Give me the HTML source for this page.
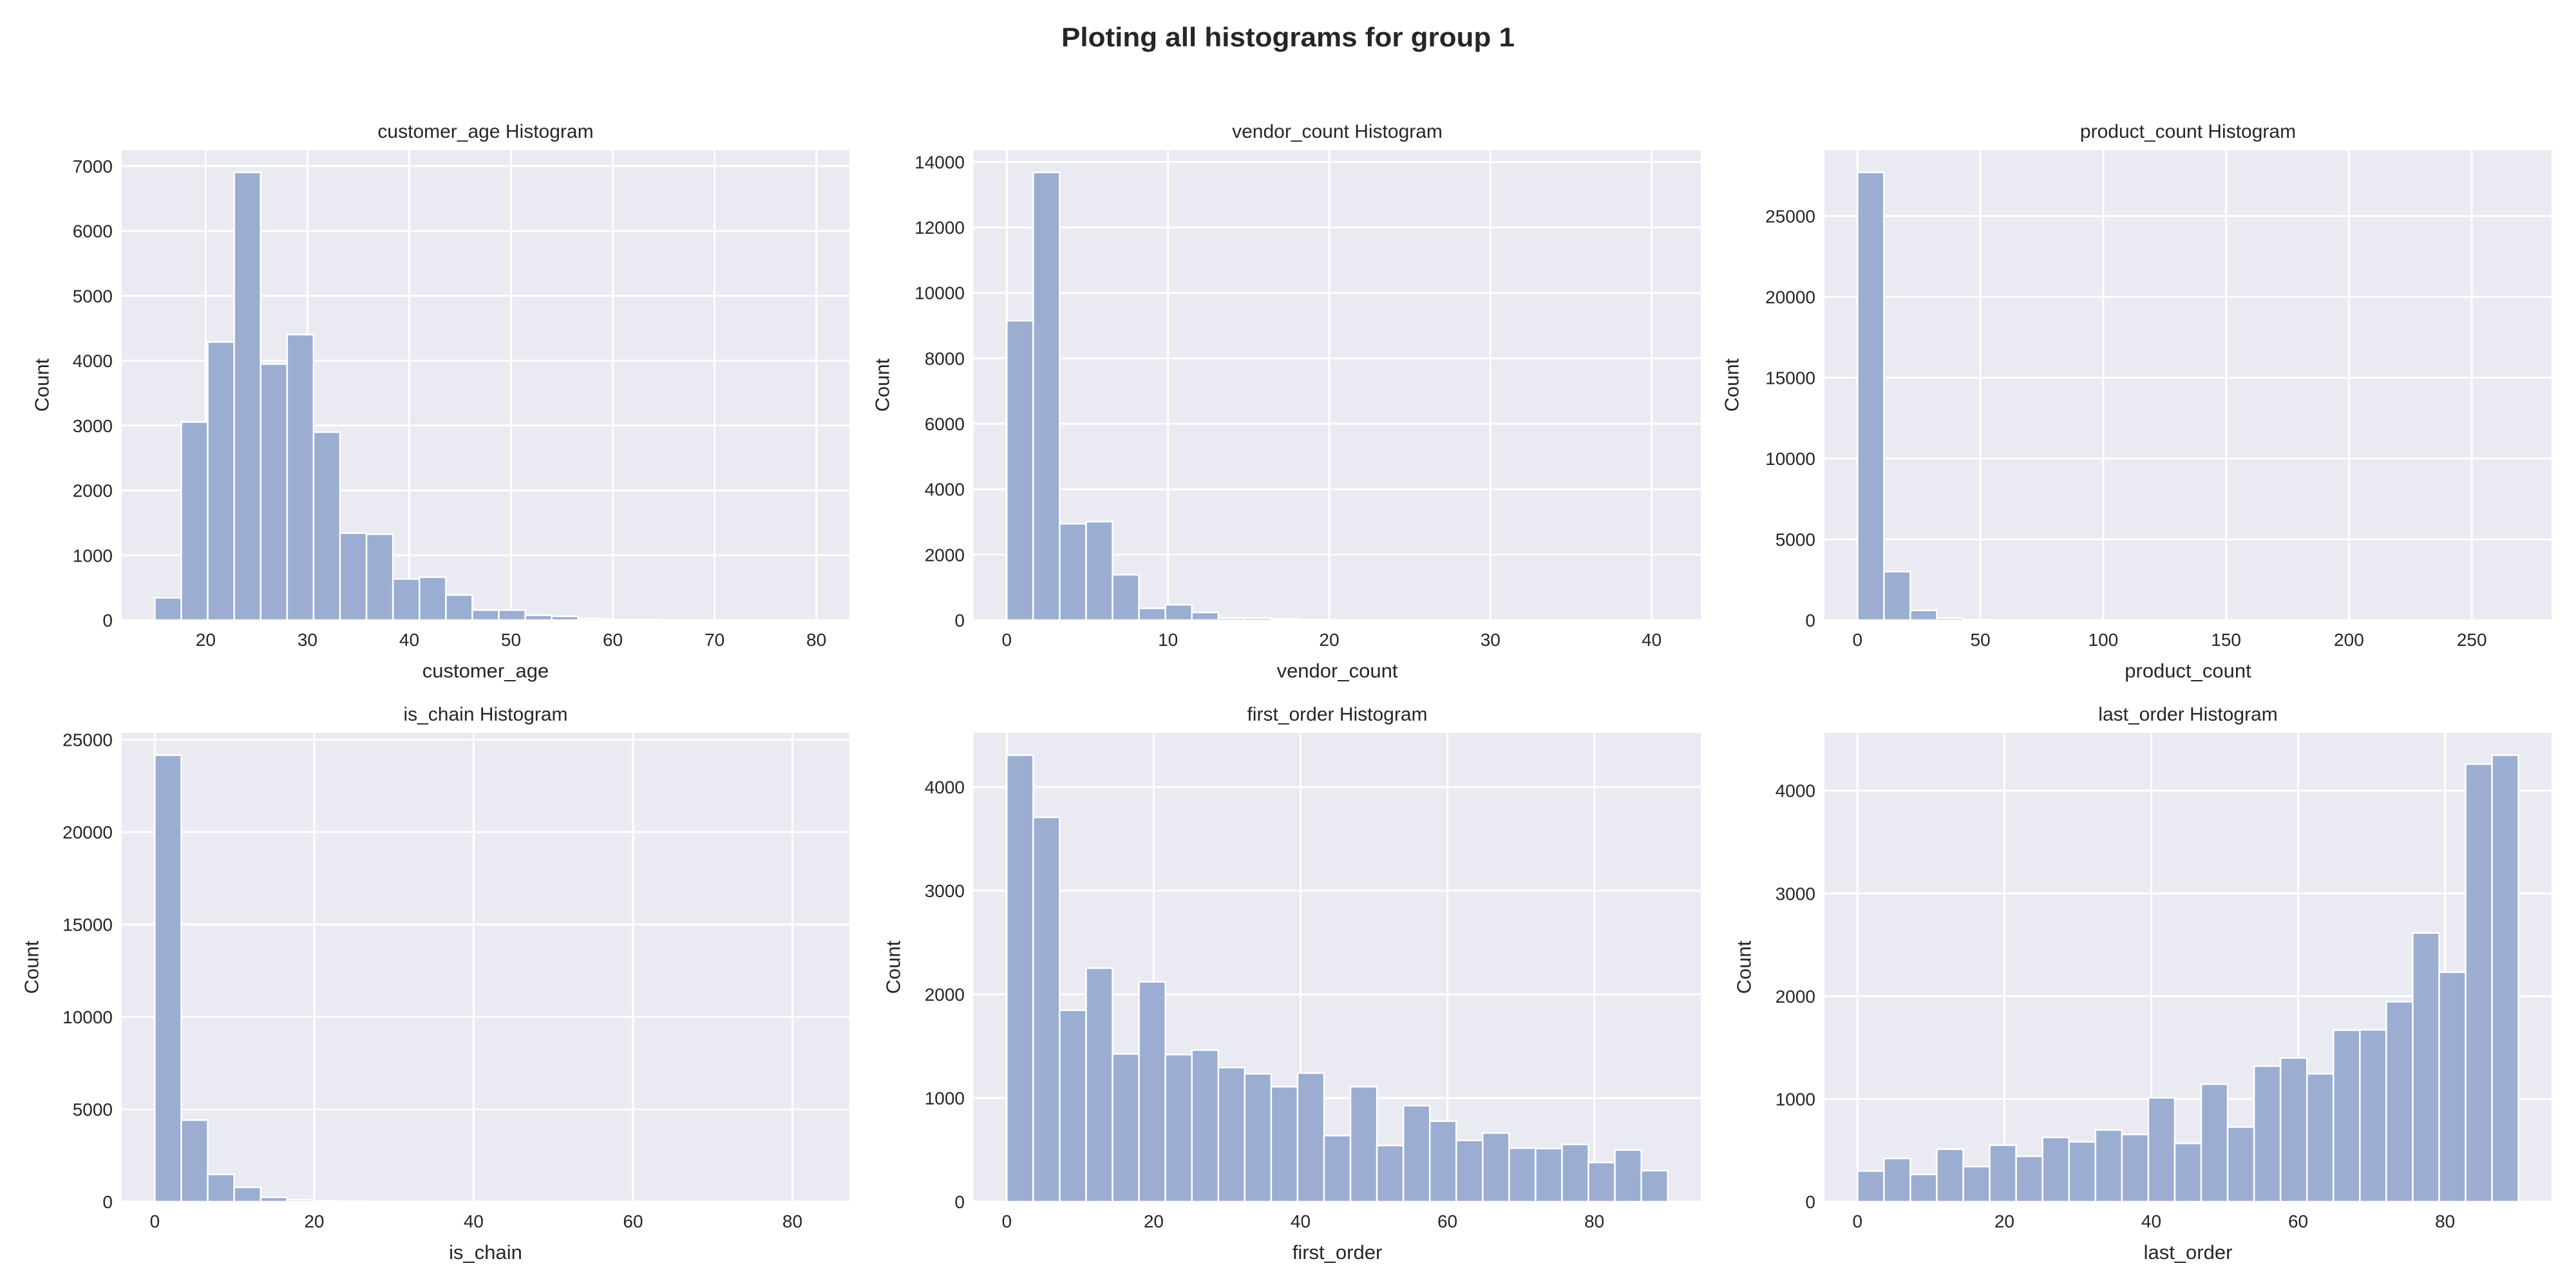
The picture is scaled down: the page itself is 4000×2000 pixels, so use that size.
<!DOCTYPE html>
<html><head><meta charset="utf-8"><style>
html,body{margin:0;padding:0;background:#fff;}
svg{display:block;font-family:"Liberation Sans",Arial,sans-serif;}
</style></head><body>
<svg id="fig" width="4000" height="2000" viewBox="0 0 4000 2000" xmlns="http://www.w3.org/2000/svg">
<rect width="4000" height="2000" fill="#fff"/>
<text x="2000" y="72" text-anchor="middle" font-size="42" font-weight="bold" fill="#262626" textLength="704" lengthAdjust="spacingAndGlyphs">Ploting all histograms for group 1</text>
</svg>
<script>
// ---- data ----
const customerAgeCounts = [345,3055,4289,6902,3949,4402,2899,1342,1325,636,663,388,156,156,75,60,27,10,8,5,3,2,2,1,1];
const vendorCountCounts = [9151,13679,2947,3011,1388,363,470,235,64,64,40,15,10,8,6,3,2,2,1,1,1,0,0,0,1];
const productCountCounts = [27700,3006,605,130,30,15,6,3,2,1,1,0,0,0,0,0,0,0,0,0,0,0,0,0,1];
const isChainCounts = [24160,4416,1479,780,240,100,40,20,10,5,3,2,1,1,0,0,0,0,0,0,0,0,0,0,1];
const firstOrderCounts = [4307,3708,1847,2253,1426,2121,1419,1462,1294,1234,1109,1241,638,1109,542,927,777,592,663,517,513,553,378,499,300];
const lastOrderCounts = [299,421,266,511,342,550,442,626,583,698,655,1011,568,1144,727,1320,1399,1245,1669,1673,1946,2615,2234,4259,4345];
const binRanges = [[15,80],[0,41],[0,269],[0,83],[0,90],[0,90]];
const panelNames = ["customer_age","vendor_count","product_count","is_chain","first_order","last_order"];
const xTicks = [[20,30,40,50,60,70,80],[0,10,20,30,40],[0,50,100,150,200,250],[0,20,40,60,80],[0,20,40,60,80],[0,20,40,60,80]];
const yTicks = [[0,1000,2000,3000,4000,5000,6000,7000],[0,2000,4000,6000,8000,10000,12000,14000],[0,5000,10000,15000,20000,25000],[0,5000,10000,15000,20000,25000],[0,1000,2000,3000,4000],[0,1000,2000,3000,4000]];
const allCounts = [customerAgeCounts,vendorCountCounts,productCountCounts,isChainCounts,firstOrderCounts,lastOrderCounts];

const NS="http://www.w3.org/2000/svg";
const svg=document.getElementById('fig');
function mk(tag,attrs,parent){const e=document.createElementNS(NS,tag);for(const k in attrs)e.setAttribute(k,attrs[k]);(parent||svg).appendChild(e);return e;}
const cols=[[189,1319],[1512,2641],[2833,3962]];
const rows=[[233,963],[1138,1866]];
const ylabX=[[65,1370,2689],[49,1387,2708]];
for(let p=0;p<6;p++){
  const r=Math.floor(p/3),c=p%3;
  const L=cols[c][0],R=cols[c][1],T=rows[r][0],B=rows[r][1];
  const counts=allCounts[p];
  const lo=binRanges[p][0],hi=binRanges[p][1];
  const pad=(hi-lo)*0.05;
  const x0=lo-pad,x1=hi+pad;
  const ymax=Math.max(...counts)*1.05;
  const sx=v=>L+(v-x0)/(x1-x0)*(R-L);
  const sy=v=>B-v/ymax*(B-T);
  const g=mk('g',{});
  
  
  const bg=mk('rect',{x:L,y:T,width:R-L,height:B-T,fill:'#eaeaf2'},g);
  
  
  xTicks[p].forEach(t=>{
    const gl=mk('line',{x1:sx(t),x2:sx(t),y1:T,y2:B,stroke:'#fff','stroke-width':3},g);
    
    
    const tl=mk('text',{x:sx(t),y:B+40,'text-anchor':'middle','font-size':28,fill:'#262626'},g);
    tl.textContent=t;
    
    
  });
  yTicks[p].forEach(t=>{
    const gl=mk('line',{x1:L,x2:R,y1:sy(t),y2:sy(t),stroke:'#fff','stroke-width':3},g);
    
    
    const tl=mk('text',{x:L-14,y:sy(t)+10,'text-anchor':'end','font-size':28,fill:'#262626'},g);
    tl.textContent=t;
    
    
  });
  const w=(hi-lo)/counts.length;
  counts.forEach((v,i)=>{
    if(v<=0)return;
    const xa=sx(lo+i*w),xb=sx(lo+(i+1)*w);
    const b=mk('rect',{x:xa,y:sy(v),width:xb-xa,height:B-sy(v),fill:'#9baed1',stroke:'#fff','stroke-width':2.5},g);
    
    
  });
  const tt=mk('text',{x:(L+R)/2,y:T-19,'text-anchor':'middle','font-size':30,fill:'#262626'},g);
  tt.textContent=panelNames[p]+' Histogram';
  
  
  const xl=mk('text',{x:(L+R)/2,y:B+89,'text-anchor':'middle','font-size':31,fill:'#262626'},g);
  xl.textContent=panelNames[p];
  
  
  const yx=ylabX[r][c],yy=(T+B)/2;
  const yl=mk('text',{x:yx,y:yy,'text-anchor':'middle','dominant-baseline':'central','font-size':31,fill:'#262626',transform:`rotate(-90 ${yx} ${yy})`},g);
  yl.textContent='Count';
  
  
}
</script>
</body></html>
